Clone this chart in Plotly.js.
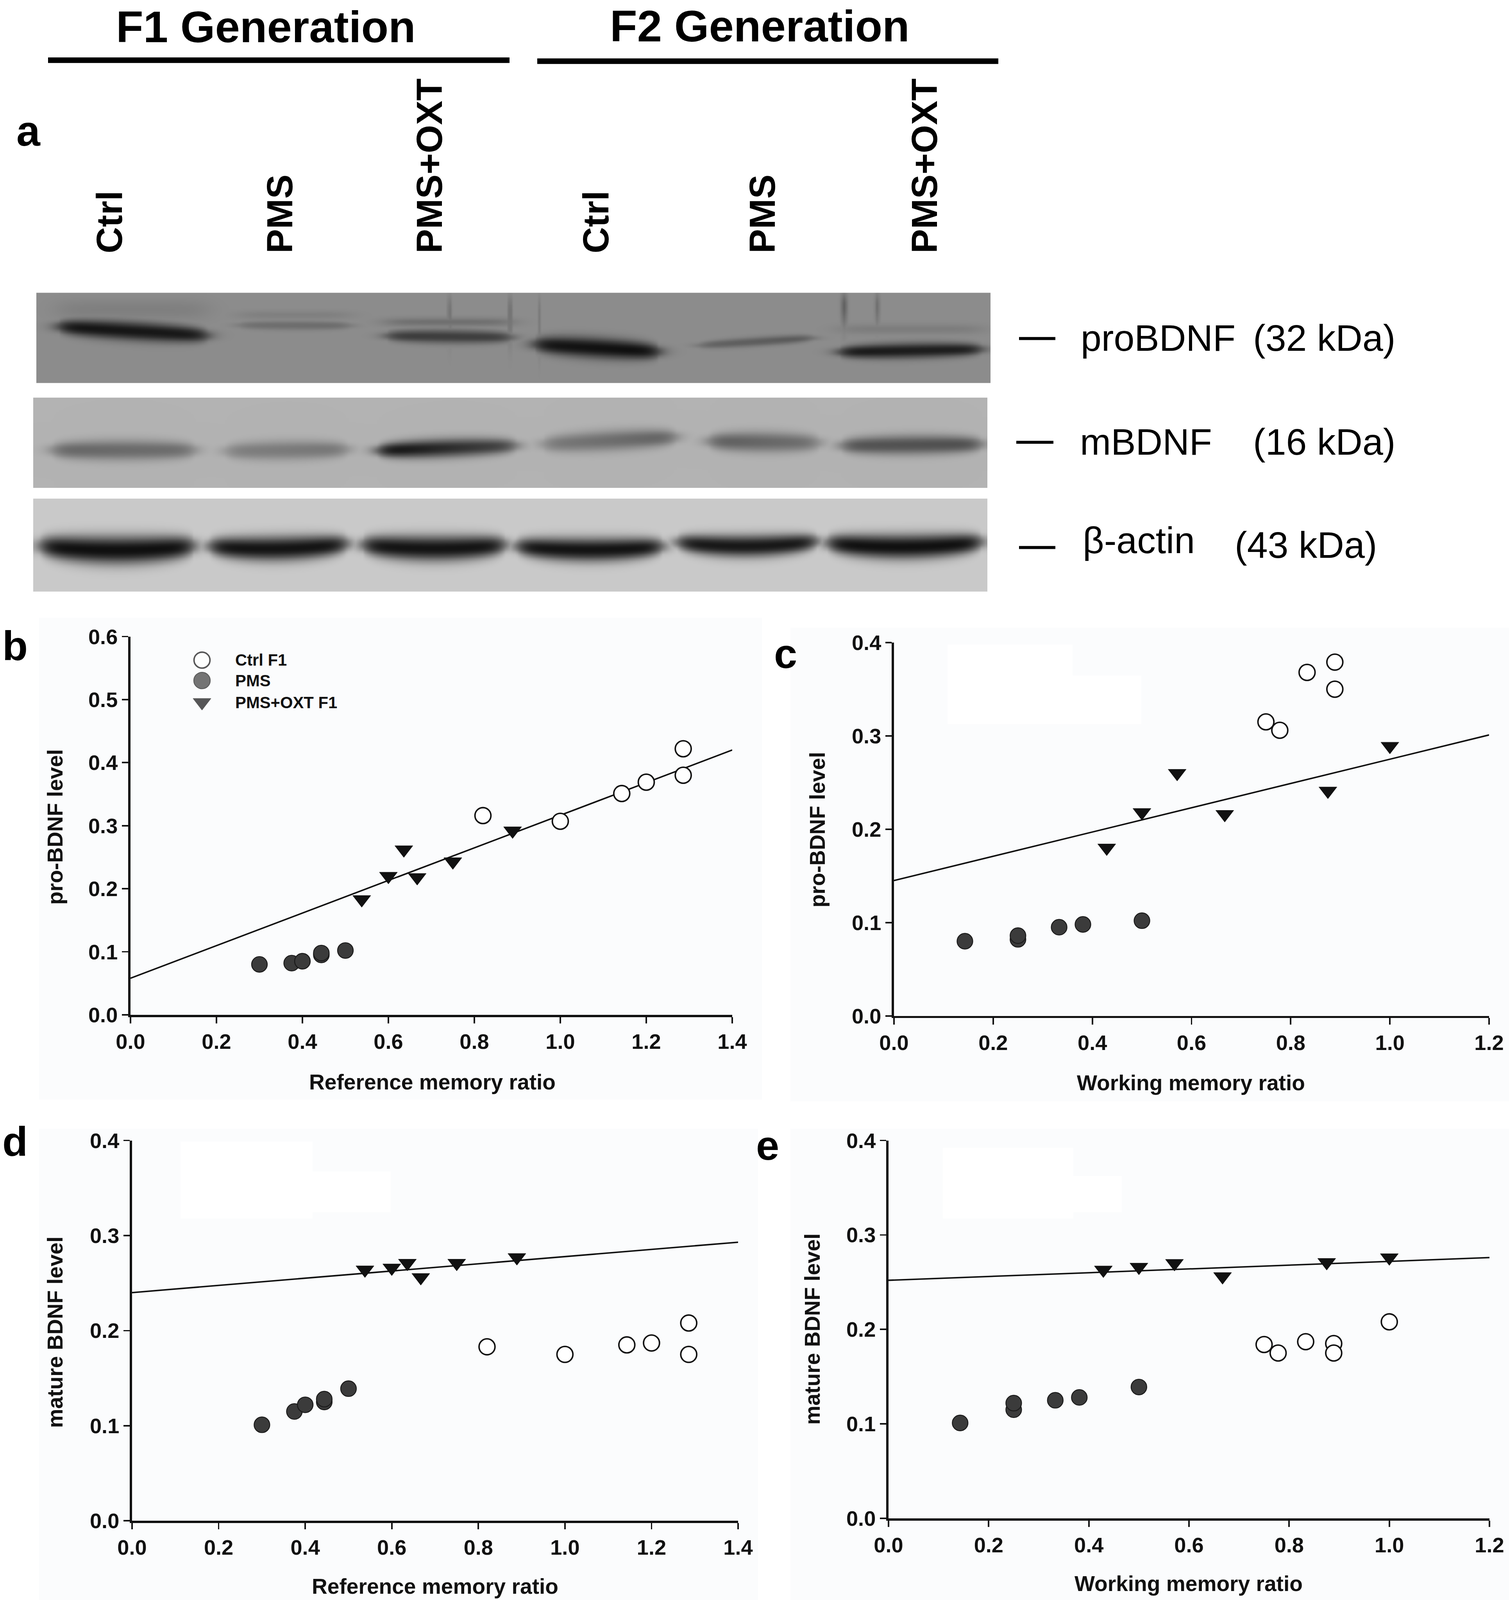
<!DOCTYPE html>
<html>
<head>
<meta charset="utf-8">
<script src="https://cdn.plot.ly/plotly-3.0.1.min.js"></script>
<style>
  html, body { margin: 0; padding: 0; background: #fff; overflow: hidden; }
</style>
</head>
<body>
<div id="plot"></div>
<script>
// ---- data ----
const lanes = ['Ctrl', 'PMS', 'PMS+OXT', 'Ctrl', 'PMS', 'PMS+OXT'];
const generations = ['F1 Generation', 'F2 Generation'];
const proteins = ['proBDNF', 'mBDNF', 'β-actin'];
const weights = ['(32 kDa)', '(16 kDa)', '(43 kDa)'];

// band darkness per lane, 0 = none, 1 = black
const proBDNF_density = [0.93, 0.25, 0.62, 0.97, 0.4, 0.88];
const mBDNF_density = [0.45, 0.36, 0.78, 0.42, 0.46, 0.56];
const actin_density = [0.97, 0.95, 0.95, 0.95, 0.93, 0.97];

// b: reference memory vs pro-BDNF
const ctrlB_x = [0.82, 1.0, 1.143, 1.2, 1.286, 1.286];
const ctrlB_y = [0.316, 0.307, 0.351, 0.369, 0.380, 0.422];
const pmsB_x = [0.3, 0.375, 0.4, 0.444, 0.444, 0.5];
const pmsB_y = [0.080, 0.082, 0.085, 0.095, 0.098, 0.102];
const oxtB_x = [0.538, 0.6, 0.636, 0.667, 0.75, 0.889];
const oxtB_y = [0.183, 0.220, 0.262, 0.218, 0.243, 0.292];
const fitB_x = [0, 1.4], fitB_y = [0.058, 0.420];

// c: working memory vs pro-BDNF
const ctrlC_x = [0.75, 0.778, 0.833, 0.889, 0.889];
const ctrlC_y = [0.315, 0.306, 0.368, 0.379, 0.350];
const pmsC_x = [0.143, 0.25, 0.25, 0.333, 0.381, 0.5];
const pmsC_y = [0.080, 0.082, 0.086, 0.095, 0.098, 0.102];
const oxtC_x = [0.429, 0.5, 0.571, 0.667, 0.875, 1.0];
const oxtC_y = [0.180, 0.218, 0.260, 0.216, 0.241, 0.289];
const fitC_x = [0, 1.2], fitC_y = [0.145, 0.301];

// d: reference memory vs mature BDNF
const ctrlD_x = [0.82, 1.0, 1.143, 1.2, 1.286, 1.286];
const ctrlD_y = [0.183, 0.175, 0.185, 0.187, 0.208, 0.175];
const pmsD_x = [0.3, 0.375, 0.4, 0.444, 0.444, 0.5];
const pmsD_y = [0.101, 0.115, 0.122, 0.125, 0.128, 0.139];
const oxtD_x = [0.538, 0.6, 0.636, 0.667, 0.75, 0.889];
const oxtD_y = [0.264, 0.266, 0.271, 0.256, 0.271, 0.277];
const fitD_x = [0, 1.4], fitD_y = [0.240, 0.293];

// e: working memory vs mature BDNF
const ctrlE_x = [0.75, 0.778, 0.833, 0.889, 0.889, 1.0];
const ctrlE_y = [0.184, 0.175, 0.187, 0.185, 0.175, 0.208];
const pmsE_x = [0.143, 0.25, 0.25, 0.333, 0.381, 0.5];
const pmsE_y = [0.101, 0.115, 0.122, 0.125, 0.128, 0.139];
const oxtE_x = [0.429, 0.5, 0.571, 0.667, 0.875, 1.0];
const oxtE_y = [0.263, 0.266, 0.270, 0.256, 0.271, 0.276];
const fitE_x = [0, 1.2], fitE_y = [0.252, 0.276];

const legendNames = ['Ctrl F1', 'PMS', 'PMS+OXT F1'];

// ---- layout geometry, in reference pixels ----
const W = 3862, H = 4547;
// fit the whole figure into the window we actually get
const VW = window.innerWidth || W, VH = window.innerHeight || H;
const SX = Math.min(VW / W, 1), SY = Math.min(VH / H, 1);
const S = (SX + SY) / 2;
const sz = v => v * S;

const FONT = 'Liberation Sans, Arial, Helvetica, sans-serif';
const INK = '#111';

const laneX = [280, 716, 1099, 1525, 1951, 2366];

const strips = [
  { density: proBDNF_density, x0: 93, x1: 2537, y0: 832, y1: 1087, bg: 0.55,
    bands: [
      { xl: 150, xr: 530, yl: 928, yr: 953, hw: 22, tl: 1.0, tr: 0.95 },
      { xl: 612, xr: 895, yl: 924, yr: 925, hw: 11, tl: 0.9, tr: 1.0 },
      { xl: 990, xr: 1308, yl: 954, yr: 958, hw: 16, tl: 1.0, tr: 0.95 },
      { xl: 1368, xr: 1686, yl: 978, yr: 999, hw: 24, tl: 0.95, tr: 1.0 },
      { xl: 1790, xr: 2078, yl: 981, yr: 960, hw: 11, tl: 0.8, tr: 1.0 },
      { xl: 2148, xr: 2510, yl: 1000, yr: 992, hw: 18, tl: 1.0, tr: 0.95 }
    ],
    // faint smears above the bands: [xl, xr, yc, hw, darkness]
    haze: [[150, 530, 880, 30, 0.10], [612, 895, 895, 12, 0.10], [990, 1308, 915, 12, 0.22],
           [2148, 2510, 935, 14, 0.12]],
    // vertical streaks: [x, ytop, ybottom, halfwidth, darkness]
    streaks: [[1150, 850, 950, 5, 0.25], [1305, 850, 960, 4, 0.35], [2160, 845, 900, 8, 0.5],
              [2245, 845, 900, 6, 0.35], [1380, 850, 1000, 3, 0.15]] },
  { density: mBDNF_density, x0: 85, x1: 2529, y0: 1130, y1: 1386, bg: 0.70,
    bands: [
      { xl: 135, xr: 497, yl: 1279, yr: 1279, hw: 24, tl: 1.0, tr: 0.9 },
      { xl: 578, xr: 888, yl: 1282, yr: 1277, hw: 23, tl: 0.85, tr: 1.0 },
      { xl: 968, xr: 1320, yl: 1280, yr: 1266, hw: 22, tl: 1.25, tr: 0.8 },
      { xl: 1390, xr: 1728, yl: 1262, yr: 1242, hw: 24, tl: 0.8, tr: 1.15 },
      { xl: 1815, xr: 2095, yl: 1254, yr: 1258, hw: 24, tl: 1.1, tr: 0.85 },
      { xl: 2155, xr: 2510, yl: 1266, yr: 1262, hw: 23, tl: 1.0, tr: 1.05 }
    ], haze: [], streaks: [] },
  { density: actin_density, x0: 85, x1: 2529, y0: 1417, y1: 1682, bg: 0.79,
    bands: [
      { xl: 104, xr: 495, yl: 1563, yr: 1563, hw: 33, smile: 12, tl: 1, tr: 1 },
      { xl: 537, xr: 887, yl: 1562, yr: 1555, hw: 29, smile: 10, tl: 1, tr: 1 },
      { xl: 929, xr: 1291, yl: 1558, yr: 1558, hw: 30, smile: 10, tl: 1, tr: 1 },
      { xl: 1323, xr: 1694, yl: 1562, yr: 1562, hw: 28, smile: 10, tl: 1, tr: 1 },
      { xl: 1735, xr: 2089, yl: 1553, yr: 1550, hw: 26, smile: 12, tl: 1, tr: 1 },
      { xl: 2119, xr: 2510, yl: 1555, yr: 1552, hw: 29, smile: 12, tl: 1, tr: 1 }
    ], haze: [], streaks: [] }
];

function sig(u) { return 1 / (1 + Math.exp(-u)); }

function stripTrace(s) {
  const xs = [], ys = [], z = [];
  for (let x = s.x0 + 3; x < s.x1; x += 6) xs.push(x);
  for (let y = s.y0 + 2; y < s.y1; y += 4) ys.push(y);
  ys.forEach(y => {
    const row = xs.map(x => {
      let d = 0;
      s.bands.forEach((b, i) => {
        const t = Math.min(1, Math.max(0, (x - b.xl) / (b.xr - b.xl)));
        const h = sig((x - b.xl) / 14) * sig((b.xr - x) / 14);
        const yc = b.yl + (b.yr - b.yl) * t - (b.smile || 0) * Math.pow(2 * t - 1, 2);
        const hw = b.hw * (0.55 + 0.45 * Math.pow(Math.sin(Math.PI * t), 0.4));
        const v = Math.exp(-Math.LN2 * Math.pow(Math.abs(y - yc) / hw, 2.2));
        const k = b.tl + (b.tr - b.tl) * t;
        d = Math.max(d, Math.min(1, s.density[i] * k) * h * v);
      });
      s.haze.forEach(q => {
        const h = sig((x - q[0]) / 20) * sig((q[1] - x) / 20);
        const v = Math.exp(-Math.pow((y - q[2]) / q[3], 2));
        d = Math.max(d, q[4] * h * v);
      });
      s.streaks.forEach(q => {
        const h = Math.exp(-Math.pow((x - q[0]) / q[3], 2));
        const v = sig((y - q[1]) / 12) * sig((q[2] - y) / 25);
        d = Math.max(d, q[4] * h * v);
      });
      return s.bg - d * (s.bg - 0.04);
    });
    z.push(row);
  });
  return {
    type: 'heatmap', x: xs, y: ys, z: z, xaxis: 'x', yaxis: 'y',
    zmin: 0, zmax: 1, zsmooth: 'best', showscale: false, hoverinfo: 'skip',
    colorscale: [[0, 'rgb(0,0,0)'], [1, 'rgb(255,255,255)']]
  };
}

// scatter panels, axis ends given in reference pixels
const panels = [
  { id: 2, px: [334, 1874], py: [2884, 1809], xmax: 1.4, ymax: 0.6,
    ytitle: 'pro-BDNF level', xtitle: 'Reference memory ratio',
    ytp: [141, 2350], xtp: [1106, 3075], tag: 'b', tagp: [38, 1836],
    ctrl: [ctrlB_x, ctrlB_y], pms: [pmsB_x, pmsB_y], oxt: [oxtB_x, oxtB_y], fit: [fitB_x, fitB_y] },
  { id: 3, px: [2288, 3811], py: [2887, 1826], xmax: 1.2, ymax: 0.4,
    ytitle: 'pro-BDNF level', xtitle: 'Working memory ratio',
    ytp: [2092, 2358], xtp: [3048, 3077], tag: 'c', tagp: [2010, 1858],
    ctrl: [ctrlC_x, ctrlC_y], pms: [pmsC_x, pmsC_y], oxt: [oxtC_x, oxtC_y], fit: [fitC_x, fitC_y] },
  { id: 4, px: [338, 1889], py: [4322, 3241], xmax: 1.4, ymax: 0.4,
    ytitle: 'mature BDNF level', xtitle: 'Reference memory ratio',
    ytp: [141, 3786], xtp: [1113, 4508], tag: 'd', tagp: [38, 3244],
    ctrl: [ctrlD_x, ctrlD_y], pms: [pmsD_x, pmsD_y], oxt: [oxtD_x, oxtD_y], fit: [fitD_x, fitD_y] },
  { id: 5, px: [2274, 3812], py: [4315, 3241], xmax: 1.2, ymax: 0.4,
    ytitle: 'mature BDNF level', xtitle: 'Working memory ratio',
    ytp: [2079, 3777], xtp: [3042, 4500], tag: 'e', tagp: [1964, 3255],
    ctrl: [ctrlE_x, ctrlE_y], pms: [pmsE_x, pmsE_y], oxt: [oxtE_x, oxtE_y], fit: [fitE_x, fitE_y] }
];

const openMarker = { symbol: 'circle', size: sz(43), color: '#ffffff', line: { color: INK, width: sz(4) } };
const darkMarker = { symbol: 'circle', size: sz(42), color: '#3b3b3b', line: { color: '#1a1a1a', width: sz(2.5) } };
const triMarker = { symbol: 'triangle-down', size: sz(42), color: INK, line: { color: INK, width: sz(1) } };

const traces = strips.map(stripTrace);
const layout = {
  width: VW, height: VH,
  margin: { l: 0, r: 0, t: 0, b: 0 },
  paper_bgcolor: '#ffffff', plot_bgcolor: 'rgba(0,0,0,0)',
  font: { family: FONT, color: INK },
  showlegend: false,
  xaxis: { domain: [0, 1], range: [0, W], visible: false, fixedrange: true },
  yaxis: { domain: [0, 1], range: [H, 0], visible: false, fixedrange: true },
  shapes: [], annotations: []
};

const fx = px => px / W;
const fy = py => 1 - py / H;
const txt = (x, y, text, size, extra) => Object.assign({
  xref: 'x', yref: 'y', x: x, y: y, text: text, showarrow: false,
  font: { size: sz(size), family: FONT, color: '#000' }
}, extra || {});

// panel backgrounds and the blanked legend patches
[[100, 1756, 1950, 3125], [2023, 1784, 3862, 3130], [100, 3208, 1940, 4547], [2023, 3208, 3862, 4547]]
  .forEach(r => layout.shapes.push({ type: 'rect', xref: 'paper', yref: 'paper', layer: 'below',
    x0: fx(r[0]), x1: fx(r[2]), y0: fy(r[1]), y1: fy(r[3]), fillcolor: '#fbfcfd', line: { width: 0 } }));
[[2425, 1832, 2745, 2058], [2745, 1920, 2921, 2058], [462, 3244, 800, 3463], [800, 3329, 1000, 3445],
 [2413, 3262, 2747, 3463], [2747, 3342, 2871, 3445]]
  .forEach(r => layout.shapes.push({ type: 'rect', xref: 'paper', yref: 'paper', layer: 'below',
    x0: fx(r[0]), x1: fx(r[2]), y0: fy(r[1]), y1: fy(r[3]), fillcolor: '#ffffff', line: { width: 0 } }));

panels.forEach(p => {
  const xa = 'xaxis' + p.id, ya = 'yaxis' + p.id;
  const common = {
    showline: true, linecolor: INK, linewidth: sz(6), mirror: false,
    ticks: 'outside', ticklen: sz(17), tickwidth: sz(4), tickcolor: INK,
    showgrid: false, zeroline: false, fixedrange: true, tick0: 0, tickformat: '.1f',
    tickfont: { family: FONT, size: sz(57), color: INK, weight: 'bold' }
  };
  layout[xa] = Object.assign({}, common, {
    domain: [fx(p.px[0]), fx(p.px[1])], range: [0, p.xmax], dtick: 0.2,
    anchor: 'y' + p.id, ticklabelstandoff: sz(18)
  });
  layout[ya] = Object.assign({}, common, {
    domain: [fy(p.py[0]), fy(p.py[1])], range: [0, p.ymax], dtick: 0.1,
    anchor: 'x' + p.id, ticklabelstandoff: sz(12)
  });
  const ax = { xaxis: 'x' + p.id, yaxis: 'y' + p.id, cliponaxis: false, hoverinfo: 'x+y' };
  traces.push(Object.assign({ type: 'scatter', mode: 'lines', x: p.fit[0], y: p.fit[1],
    line: { color: INK, width: sz(4) } }, ax));
  traces.push(Object.assign({ type: 'scatter', mode: 'markers', name: 'PMS',
    x: p.pms[0], y: p.pms[1], marker: darkMarker }, ax));
  traces.push(Object.assign({ type: 'scatter', mode: 'markers', name: 'PMS+OXT',
    x: p.oxt[0], y: p.oxt[1], marker: triMarker }, ax));
  traces.push(Object.assign({ type: 'scatter', mode: 'markers', name: 'Ctrl',
    x: p.ctrl[0], y: p.ctrl[1], marker: openMarker }, ax));

  const bold = s => ({ size: sz(s), weight: 'bold', family: FONT, color: INK });
  layout.annotations.push(
    txt(p.ytp[0], p.ytp[1], p.ytitle, 58, { textangle: -90, font: bold(58) }),
    txt(p.xtp[0], p.xtp[1], p.xtitle, 58, { font: bold(58) }),
    txt(p.tagp[0], p.tagp[1], p.tag, 112, { font: Object.assign(bold(112), { color: '#000' }) })
  );
});

// legend key of panel b
const keyY = [1876, 1934, 1996];
traces.push({
  type: 'scatter', mode: 'markers', xaxis: 'x', yaxis: 'y', hoverinfo: 'skip',
  x: [517, 517, 517], y: keyY,
  marker: {
    symbol: ['circle', 'circle', 'triangle-down'], size: [sz(43), sz(44), sz(42)],
    color: ['#ffffff', '#3b3b3b', INK],
    line: { color: [INK, '#1a1a1a', INK], width: [sz(4), sz(2.5), sz(1)] }
  }
});
legendNames.forEach((n, i) => layout.annotations.push(
  txt(600, keyY[i], n, 44, { xanchor: 'left', font: { size: sz(44), weight: 'bold', family: FONT, color: INK } })
));

// blot header (kept just inside the top edge)
const boldBlack = s => ({ size: sz(s), weight: 'bold', family: FONT, color: '#000' });
layout.annotations.push(
  txt(680, 76, generations[0], 120, { font: boldBlack(120), borderpad: 0 }),
  txt(1944, 74, generations[1], 120, { font: boldBlack(120), borderpad: 0 }),
  txt(73, 372, 'a', 115, { font: boldBlack(115) })
);
layout.shapes.push(
  { type: 'line', xref: 'x', yref: 'y', x0: 123, x1: 1304, y0: 171, y1: 171, line: { color: '#000', width: sz(15) } },
  { type: 'line', xref: 'x', yref: 'y', x0: 1375, x1: 2555, y0: 174, y1: 174, line: { color: '#000', width: sz(15) } }
);
lanes.forEach((l, i) => layout.annotations.push(
  txt(laneX[i], 722, l, 98, { yanchor: 'bottom', textangle: -90, font: boldBlack(98) })
));

// band labels on the right
const labelRows = [
  { dash: [2608, 2701, 962], name: [2764, 960], kda: [3205, 960] },
  { dash: [2601, 2696, 1257], name: [2762, 1256], kda: [3205, 1256] },
  { dash: [2608, 2701, 1556], name: [2769, 1535], kda: [3158, 1549] }
];
labelRows.forEach((r, i) => {
  layout.shapes.push({ type: 'line', xref: 'x', yref: 'y', x0: r.dash[0], x1: r.dash[1], y0: r.dash[2], y1: r.dash[2],
    line: { color: '#000', width: sz(8) } });
  layout.annotations.push(
    txt(r.name[0], r.name[1], proteins[i], 100, { xanchor: 'left' }),
    txt(r.kda[0], r.kda[1], weights[i], 100, { xanchor: 'left' })
  );
});

const div = document.getElementById('plot');
div.style.width = VW + 'px';
div.style.height = VH + 'px';
Plotly.newPlot(div, traces, layout, { displayModeBar: false, staticPlot: true });
</script>
</body>
</html>
